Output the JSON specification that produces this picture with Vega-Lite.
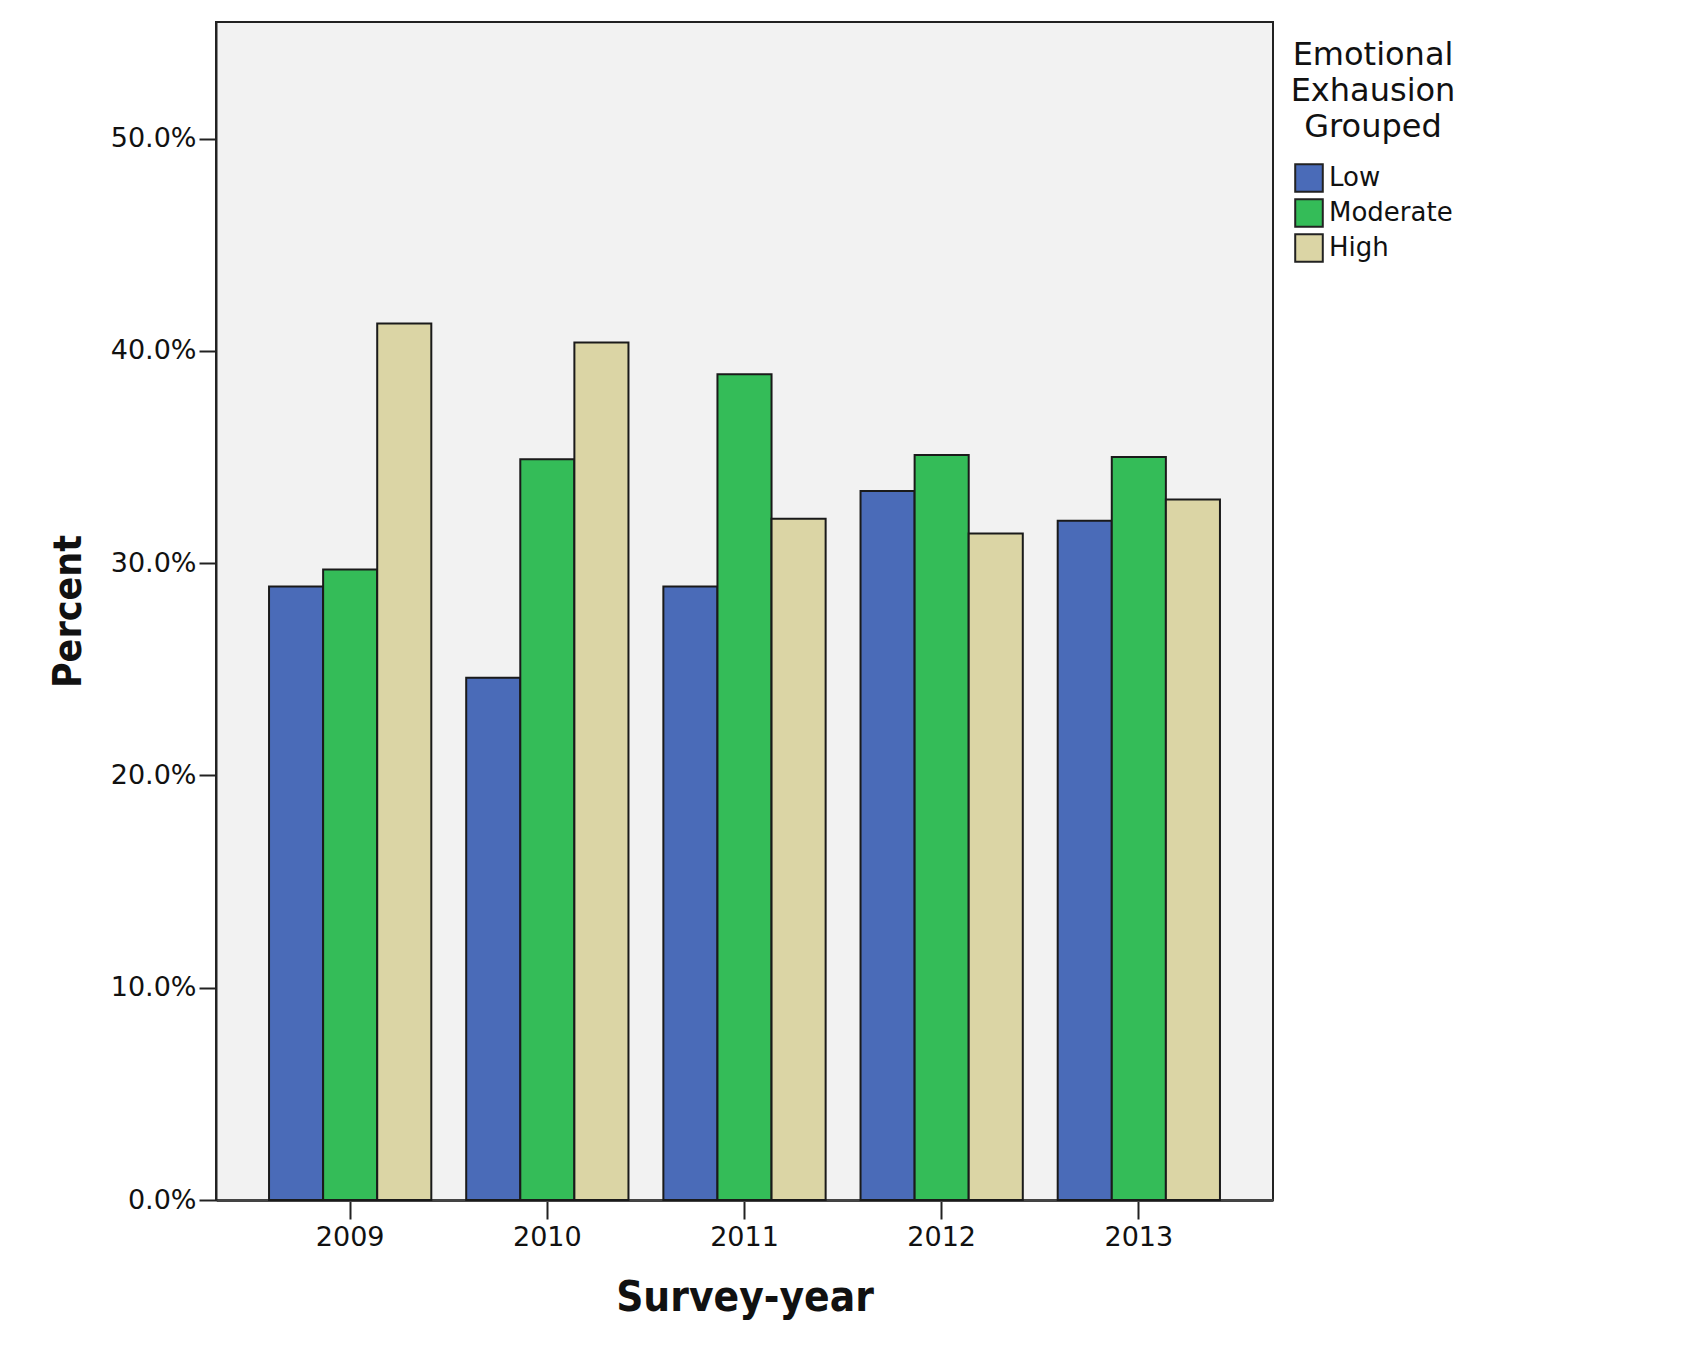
{
  "$schema": "https://vega.github.io/schema/vega-lite/v6.json",
  "width": 1057,
  "height": 1178,
  "autosize": {"type": "none"},
  "padding": {"left": 216, "top": 22, "right": 422, "bottom": 155},
  "background": "white",
  "data": {
    "values": [
      {"year": "2009", "level": "Low", "pct": 0.289},
      {"year": "2009", "level": "Moderate", "pct": 0.297},
      {"year": "2009", "level": "High", "pct": 0.413},
      {"year": "2010", "level": "Low", "pct": 0.246},
      {"year": "2010", "level": "Moderate", "pct": 0.349},
      {"year": "2010", "level": "High", "pct": 0.404},
      {"year": "2011", "level": "Low", "pct": 0.289},
      {"year": "2011", "level": "Moderate", "pct": 0.389},
      {"year": "2011", "level": "High", "pct": 0.321},
      {"year": "2012", "level": "Low", "pct": 0.334},
      {"year": "2012", "level": "Moderate", "pct": 0.351},
      {"year": "2012", "level": "High", "pct": 0.314},
      {"year": "2013", "level": "Low", "pct": 0.320},
      {"year": "2013", "level": "Moderate", "pct": 0.350},
      {"year": "2013", "level": "High", "pct": 0.330}
    ]
  },
  "mark": {"type": "bar", "stroke": "#1a1a1a", "strokeWidth": 2},
  "encoding": {
    "x": {
      "field": "year",
      "type": "nominal",
      "title": "Survey-year",
      "scale": {"paddingInner": 0.177, "paddingOuter": 0.269},
      "axis": {
        "labelAngle": 0,
        "tickSize": 19,
        "labelPadding": 5,
        "titlePadding": 27,
        "domainColor": "#444",
        "domainWidth": 3
      }
    },
    "xOffset": {
      "field": "level",
      "type": "nominal",
      "sort": ["Low", "Moderate", "High"],
      "scale": {"paddingInner": 0, "paddingOuter": 0}
    },
    "y": {
      "field": "pct",
      "type": "quantitative",
      "title": "Percent",
      "scale": {"domain": [0, 0.555], "nice": false},
      "axis": {
        "format": ".1%",
        "values": [0, 0.1, 0.2, 0.3, 0.4, 0.5],
        "grid": false,
        "tickSize": 17,
        "labelPadding": 3,
        "titlePadding": 22,
        "domainColor": "#222",
        "domainWidth": 2
      }
    },
    "color": {
      "field": "level",
      "type": "nominal",
      "sort": ["Low", "Moderate", "High"],
      "scale": {
        "domain": ["Low", "Moderate", "High"],
        "range": ["#4a6bb8", "#34bc58", "#dbd5a5"]
      },
      "legend": {
        "title": ["Emotional", "Exhausion", "Grouped"],
        "titleFontSize": 32,
        "titleFontWeight": "normal",
        "titleLineHeight": 36,
        "titleAnchor": "middle",
        "titleAlign": "center",
        "titlePadding": 19,
        "titleColor": "#111",
        "labelFontSize": 26,
        "labelColor": "#111",
        "labelOffset": 5,
        "rowPadding": -1,
        "symbolType": "square",
        "symbolSize": 760,
        "symbolStrokeColor": "#222",
        "symbolStrokeWidth": 2,
        "symbolOpacity": 1,
        "padding": 18,
        "offset": 0
      }
    }
  },
  "config": {
    "font": "DejaVu Sans",
    "view": {"fill": "#f2f2f2", "stroke": "#222", "strokeWidth": 2},
    "axis": {
      "labelFont": "DejaVu Sans",
      "labelFontSize": 27,
      "labelColor": "#111",
      "tickColor": "#222",
      "tickWidth": 2,
      "titleFont": "DejaVu Sans Condensed, DejaVu Sans",
      "titleFontWeight": "bold",
      "titleColor": "#111"
    },
    "axisX": {"titleFontSize": 42},
    "axisY": {"titleFontSize": 39}
  }
}
